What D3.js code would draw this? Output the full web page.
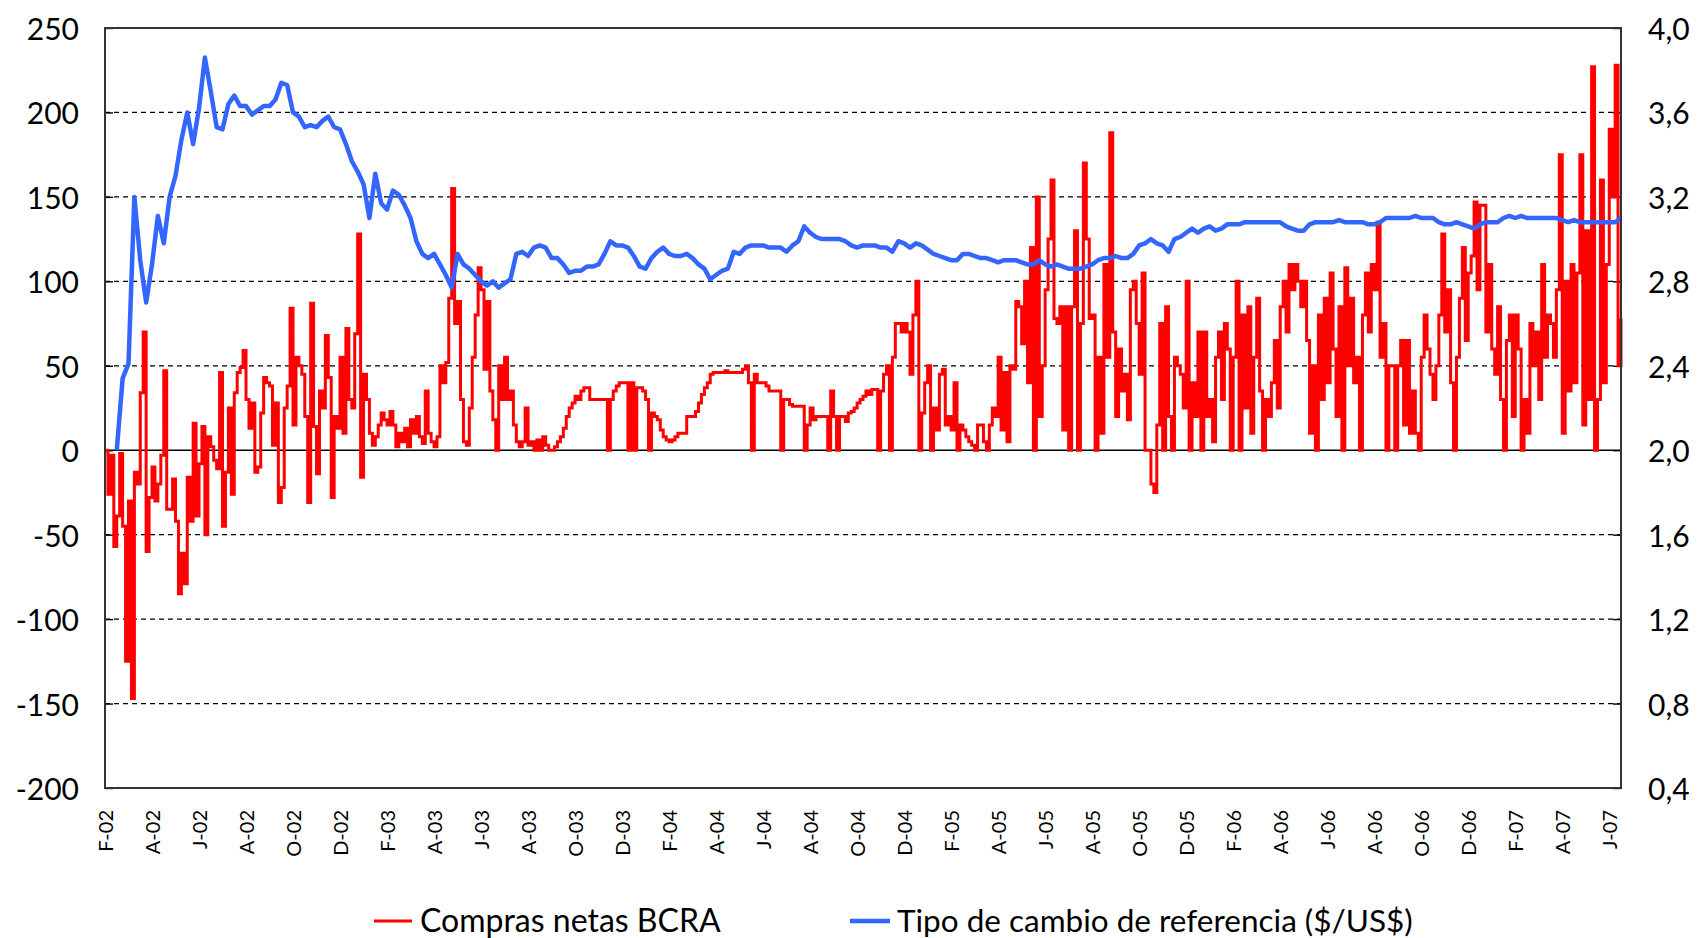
<!DOCTYPE html>
<html><head><meta charset="utf-8">
<script src="https://cdn.jsdelivr.net/npm/d3@7/dist/d3.min.js"></script>
<style>
body{margin:0;background:#fff}
svg{display:block}
text{font-family:Lato,"Open Sans",sans-serif;fill:#000}
</style>
</head><body>
<svg id="chart" width="1698" height="938"></svg>
<script>
// ---- data ----
const tickLabels = ["F-02","A-02","J-02","A-02","O-02","D-02","F-03","A-03","J-03","A-03","O-03","D-03",
  "F-04","A-04","J-04","A-04","O-04","D-04","F-05","A-05","J-05","A-05","O-05","D-05",
  "F-06","A-06","J-06","A-06","O-06","D-06","F-07","A-07","J-07"];
const tickMonths = tickLabels.map((d,i)=>i*2);   // months since Feb-2002
const monthSpan = 64.5;
const leftTicks = [-200,-150,-100,-50,0,50,100,150,200,250];
const rightTicks = [0.4,0.8,1.2,1.6,2.0,2.4,2.8,3.2,3.6,4.0];
const redStep = 0.125;   // months between red samples
const blueStep = 0.25;   // months between blue samples
const seriesNames = ["Compras netas BCRA","Tipo de cambio de referencia ($/US$)"];

// Compras netas BCRA (millones US$)
const redValues = [
 0,-26,-3,-57,-39,-2,-45,-125,-30,-147,
 -13,-20,34,70,-60,-28,-10,-30,-20,-3,
 47,-35,-35,-17,-42,-85,-61,-79,-16,-42,
 16,-39,-8,14,-50,8,2,-6,-11,46,
 -45,-13,25,-26,34,46,49,59,30,13,
 28,-13,-10,22,43,40,38,3,28,-31,
 -22,25,38,84,15,55,50,45,20,-31,
 87,14,-14,35,25,68,43,-28,20,13,
 55,10,72,30,25,69,128,-16,45,30,
 10,3,8,15,22,18,15,23,15,2,
 10,5,13,2,18,10,20,8,4,35,
 10,5,2,8,50,40,52,90,155,75,
 88,30,5,3,25,55,80,108,95,48,
 88,35,18,0,50,30,55,30,35,15,
 5,2,5,25,3,5,0,6,0,8,
 3,0,0,2,5,8,13,20,25,28,
 32,30,35,37,37,30,30,30,30,30,
 30,0,30,35,38,40,40,40,0,40,
 0,37,37,35,30,0,22,20,18,12,
 8,6,5,6,8,10,10,10,20,20,
 20,23,28,33,37,40,45,46,46,46,
 46,47,46,46,46,46,46,48,50,40,
 0,45,40,40,40,38,35,35,35,35,
 0,30,30,27,26,26,26,26,0,15,
 25,18,20,20,20,20,0,35,20,0,
 20,20,17,22,23,25,28,30,32,35,
 33,36,36,0,35,45,50,0,55,75,
 75,70,75,70,45,80,100,0,22,40,
 50,0,25,12,45,48,15,20,12,40,
 0,15,12,8,5,3,0,15,15,5,
 0,15,25,20,55,12,46,5,50,48,
 88,85,63,100,40,120,0,150,20,50,
 95,125,160,78,75,85,12,85,0,85,
 130,0,75,170,125,78,80,0,55,10,
 110,55,188,70,20,60,35,45,18,95,
 100,75,45,105,0,0,-20,-25,15,75,
 0,85,20,0,55,50,45,25,100,0,
 40,20,70,0,70,20,30,5,55,70,
 30,75,60,0,55,100,0,80,25,85,
 10,55,90,35,0,30,20,40,65,25,
 85,100,70,110,95,110,100,85,100,65,
 10,50,0,80,30,90,40,105,60,20,
 85,0,108,50,90,40,55,0,80,105,
 70,110,95,135,55,75,0,50,50,0,
 50,65,15,65,10,35,10,0,55,80,
 60,45,30,50,80,128,70,95,40,0,
 55,90,120,65,105,115,147,95,145,145,
 70,110,60,45,85,30,0,65,80,20,
 80,60,0,30,10,75,50,70,30,110,
 55,80,75,55,95,175,10,100,35,110,
 40,105,175,15,130,30,227,0,30,160,
 40,110,190,150,228,50,78
];

// Tipo de cambio de referencia ($/US$)
const blueValues = [
 null,null,2.00,2.34,2.41,3.20,2.90,2.70,2.88,3.11,
 2.98,3.20,3.30,3.47,3.60,3.45,3.62,3.86,3.70,3.53,
 3.52,3.64,3.68,3.63,3.63,3.59,3.61,3.63,3.63,3.66,
 3.74,3.73,3.60,3.58,3.53,3.54,3.53,3.56,3.58,3.53,
 3.52,3.45,3.37,3.32,3.26,3.10,3.31,3.17,3.14,3.23,
 3.21,3.16,3.10,2.99,2.93,2.91,2.93,2.88,2.83,2.77,
 2.93,2.88,2.86,2.83,2.80,2.78,2.80,2.77,2.79,2.81,
 2.93,2.94,2.92,2.96,2.97,2.96,2.91,2.91,2.88,2.84,
 2.85,2.85,2.87,2.87,2.88,2.93,2.99,2.97,2.97,2.96,
 2.92,2.87,2.86,2.91,2.94,2.96,2.93,2.92,2.92,2.93,
 2.91,2.88,2.86,2.81,2.83,2.85,2.86,2.94,2.93,2.96,
 2.97,2.97,2.97,2.96,2.96,2.96,2.94,2.97,2.99,3.06,
 3.03,3.01,3.00,3.00,3.00,3.00,2.99,2.97,2.96,2.97,
 2.97,2.97,2.96,2.96,2.94,2.99,2.98,2.96,2.98,2.97,
 2.95,2.93,2.92,2.91,2.90,2.90,2.93,2.93,2.92,2.91,
 2.91,2.90,2.89,2.90,2.90,2.90,2.89,2.88,2.88,2.90,
 2.88,2.87,2.88,2.87,2.86,2.86,2.86,2.87,2.88,2.90,
 2.91,2.91,2.92,2.91,2.91,2.93,2.97,2.98,3.00,2.98,
 2.97,2.94,3.00,3.01,3.03,3.05,3.03,3.05,3.06,3.04,
 3.05,3.07,3.07,3.07,3.08,3.08,3.08,3.08,3.08,3.08,
 3.08,3.06,3.05,3.04,3.04,3.07,3.08,3.08,3.08,3.08,
 3.09,3.08,3.08,3.08,3.08,3.07,3.07,3.08,3.10,3.10,
 3.10,3.10,3.10,3.11,3.10,3.10,3.10,3.08,3.07,3.07,
 3.08,3.07,3.06,3.05,3.07,3.08,3.08,3.08,3.10,3.11,
 3.10,3.11,3.10,3.10,3.10,3.10,3.10,3.10,3.09,3.08,
 3.09,3.08,3.08,3.08,3.08,3.08,3.08,3.08,3.10
];

// ---- layout ----
const W = 1698, H = 938;
const M = {left:105, right:1621, top:28, bottom:788};
const RED = "#ff0000", BLUE = "#3366ff";

const svg = d3.select("#chart");
const x = d3.scaleLinear().domain([0, monthSpan]).range([M.left, M.right]);
const yL = d3.scaleLinear().domain([-200, 250]).range([M.bottom, M.top]);
const yR = d3.scaleLinear().domain([0.4, 4.0]).range([M.bottom, M.top]);

svg.append("rect").attr("width",W).attr("height",H).attr("fill","#fff");

// gridlines
const grid = svg.append("g");
grid.selectAll("line").data(leftTicks.filter(d=>d!==-200 && d!==250)).join("line")
  .attr("x1",M.left).attr("x2",M.right)
  .attr("y1",d=>yL(d)).attr("y2",d=>yL(d))
  .attr("stroke","#000").attr("stroke-width",d=>d===0?1.6:1.2)
  .attr("stroke-dasharray",d=>d===0?null:"5,4");

// inner ticks
const axL = d3.axisRight(yL).tickValues(leftTicks).tickSize(8).tickFormat("");
const gL = svg.append("g").attr("transform",`translate(${M.left},0)`).call(axL);
gL.select(".domain").remove();
gL.selectAll("line").attr("stroke","#000").attr("stroke-width",1.4);
const axR = d3.axisLeft(yR).tickValues(rightTicks).tickSize(8).tickFormat("");
const gR = svg.append("g").attr("transform",`translate(${M.right},0)`).call(axR);
gR.select(".domain").remove();
gR.selectAll("line").attr("stroke","#000").attr("stroke-width",1.4);

// series
const redData = redValues.map((v,i)=>({m:i*redStep, v}));
const blueData = blueValues.map((v,i)=>({m:i*blueStep, v}));

svg.append("path").datum(redData)
  .attr("fill","none").attr("stroke",RED).attr("stroke-width",3)
  .attr("stroke-linejoin","miter")
  .attr("d", d3.line().curve(d3.curveStepAfter).x(d=>x(d.m)).y(d=>yL(d.v)));

svg.append("path").datum(blueData)
  .attr("fill","none").attr("stroke",BLUE).attr("stroke-width",4.5)
  .attr("stroke-linejoin","round")
  .attr("d", d3.line().defined(d=>d.v!==null).x(d=>x(d.m)).y(d=>yR(d.v)));

// frame
svg.append("rect").attr("x",M.left).attr("y",M.top)
  .attr("width",M.right-M.left).attr("height",M.bottom-M.top)
  .attr("fill","none").attr("stroke","#333").attr("stroke-width",2);

// left labels
svg.append("g").selectAll("text").data(leftTicks).join("text")
  .attr("x",79).attr("y",d=>yL(d)).attr("text-anchor","end")
  .attr("dominant-baseline","central").attr("font-size",30)
  .text(d=>d);

// right labels
const fmtR = d=>d3.format(".1f")(d).replace(".",",");
svg.append("g").selectAll("text").data(rightTicks).join("text")
  .attr("x",1648).attr("y",d=>yR(d)).attr("text-anchor","start")
  .attr("dominant-baseline","central").attr("font-size",30)
  .text(fmtR);

// x labels (rotated)
svg.append("g").selectAll("text").data(tickMonths).join("text")
  .attr("transform",d=>`translate(${x(d)},810) rotate(-90)`)
  .attr("text-anchor","end").attr("dominant-baseline","central")
  .attr("font-size",20)
  .text((d,i)=>tickLabels[i]);

// legend
const leg = svg.append("g");
leg.append("line").attr("x1",374).attr("x2",412).attr("y1",921).attr("y2",921)
  .attr("stroke",RED).attr("stroke-width",3);
leg.append("text").attr("x",420).attr("y",932).attr("font-size",32).text(seriesNames[0]);
leg.append("line").attr("x1",850).attr("x2",890).attr("y1",921).attr("y2",921)
  .attr("stroke",BLUE).attr("stroke-width",4.5);
leg.append("text").attr("x",897).attr("y",932).attr("font-size",31.5).text(seriesNames[1]);
</script>
</body></html>
